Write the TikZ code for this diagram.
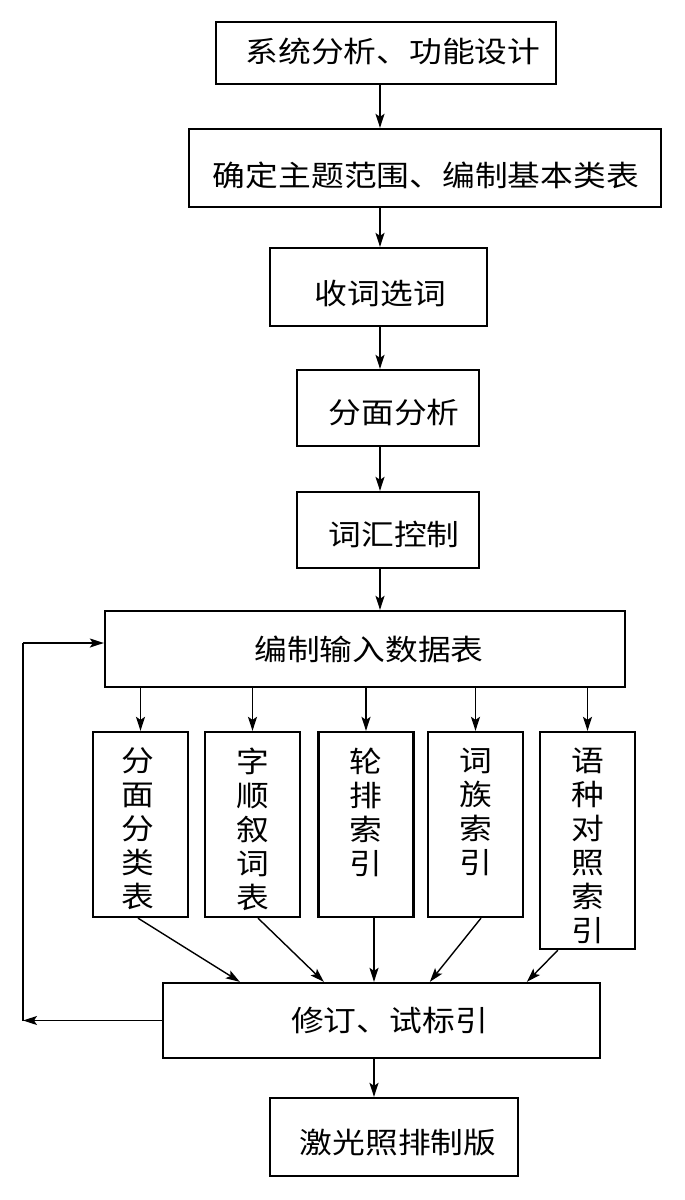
\documentclass[tikz,border=0pt]{standalone}
\usepackage{fontspec}
\newfontfamily\cjk[FakeStretch=1.13]{Noto Sans CJK SC}
\usetikzlibrary{arrows.meta,calc}
\begin{document}
\begin{tikzpicture}[x=1pt,y=1pt,
  box/.style={draw, line width=2.3pt, inner sep=0pt, anchor=center},
  txt/.style={inner sep=0pt, anchor=center,
    font=\cjk\fontsize{29pt}{34pt}\selectfont},
  vtext/.style={inner sep=0pt, align=center, anchor=north,
    font=\cjk\fontsize{29pt}{34pt}\selectfont},
  arr/.style={line width=1.4pt, -{Stealth[length=14pt,width=9pt,inset=3pt]}},
  ln/.style={line width=1.4pt}]
\useasboundingbox (0,0) rectangle (685,-1200);
% main boxes
\node[box, minimum width=340pt, minimum height=62pt] (b1) at (386,-53) {};
\node[box, minimum width=472pt, minimum height=78pt] (b2) at (425,-168) {};
\node[box, minimum width=217pt, minimum height=78pt] (b3) at (378.5,-287) {};
\node[box, minimum width=182pt, minimum height=76pt] (b4) at (388,-408) {};
\node[box, minimum width=182pt, minimum height=76pt] (b5) at (388,-530) {};
\node[box, minimum width=520pt, minimum height=76pt] (b6) at (365,-649) {};
\node[txt] (t1) at ([xshift=7pt,yshift=2pt]b1.center) {系统分析、功能设计};
\node[txt] (t2) at ([xshift=1pt,yshift=-7pt]b2.center) {确定主题范围、编制基本类表};
\node[txt] (t3) at ([xshift=2pt,yshift=-6pt]b3.center) {收词选词};
\node[txt] (t4) at ([xshift=6pt,yshift=-5pt]b4.center) {分面分析};
\node[txt] (t5) at ([xshift=6pt,yshift=-4pt]b5.center) {词汇控制};
\node[txt] (t6) at ([xshift=4pt]b6.center) {编制输入数据表};
% vertical boxes
\node[box, minimum width=95pt, minimum height=185pt] (v1) at (140.5,-824.5) {};
\node[box, minimum width=95pt, minimum height=185pt] (v2) at (252.5,-824.5) {};
\node[box, minimum width=95pt, minimum height=185pt] (v3) at (366,-824.5) {};
\node[box, minimum width=95pt, minimum height=185pt] (v4) at (475.5,-824.5) {};
\node[box, minimum width=95pt, minimum height=217pt] (v5) at (587.5,-840.5) {};
\node[vtext] (l1) at ([xshift=-3pt,yshift=-17pt]v1.north) {分\\面\\分\\类\\表};
\node[vtext] (l2) at ([yshift=-17pt]v2.north) {字\\顺\\叙\\词\\表};
\node[vtext] (l3) at ([yshift=-17pt]v3.north) {轮\\排\\索\\引};
\node[vtext] (l4) at ([yshift=-17pt]v4.north) {词\\族\\索\\引};
\node[vtext] (l5) at ([yshift=-17pt]v5.north) {语\\种\\对\\照\\索\\引};
% lower boxes
\node[box, minimum width=437pt, minimum height=75pt] (b7) at (381.5,-1020.5) {};
\node[box, minimum width=248pt, minimum height=78pt] (b8) at (394,-1137) {};
\node[txt] (t7) at ([xshift=8pt]b7.center) {修订、试标引};
\node[txt] (t8) at ([xshift=4pt,yshift=-6pt]b8.center) {激光照排制版};
% spine coordinates
\coordinate (sp) at (380,0);
\coordinate (sp2) at (374,0);
% vertical chain
\draw[arr] (b1.south -| sp) -- (b2.north -| sp);
\draw[arr] (b2.south -| sp) -- (b3.north -| sp);
\draw[arr] (b3.south -| sp) -- (b4.north -| sp);
\draw[arr] (b4.south -| sp) -- (b5.north -| sp);
\draw[arr] (b5.south -| sp) -- (b6.north -| sp);
% fan out
\draw[arr] (b6.south -| v1.north) -- (v1.north);
\draw[arr] (b6.south -| v2.north) -- (v2.north);
\draw[arr] (b6.south -| v3.north) -- (v3.north);
\draw[arr] (b6.south -| v4.north) -- (v4.north);
\draw[arr] (b6.south -| v5.north) -- (v5.north);
% fan in
\draw[arr] ([xshift=-2.5pt]v1.south) -- ([xshift=78pt]b7.north west);
\draw[arr] ([xshift=5.5pt]v2.south) -- ([xshift=162pt]b7.north west);
\draw[arr] (v3.south -| sp2) -- (b7.north -| sp2);
\draw[arr] ([xshift=5.5pt]v4.south) -- ([xshift=268pt]b7.north west);
\draw[arr] ([xshift=19pt]v5.south west) -- ([xshift=365pt]b7.north west);
% to final
\draw[arr] (b7.south -| sp2) -- (b8.north -| sp2);
% feedback loop
\coordinate (fbL) at (23,-1021);
\coordinate (fbT) at (23,-643);
\draw[arr] (b7.west) -- (b7.west -| fbL);
\draw[ln] (b7.west -| fbL) -- (fbT);
\draw[arr] (fbT) -- (fbT -| b6.west);
\end{tikzpicture}
\end{document}
